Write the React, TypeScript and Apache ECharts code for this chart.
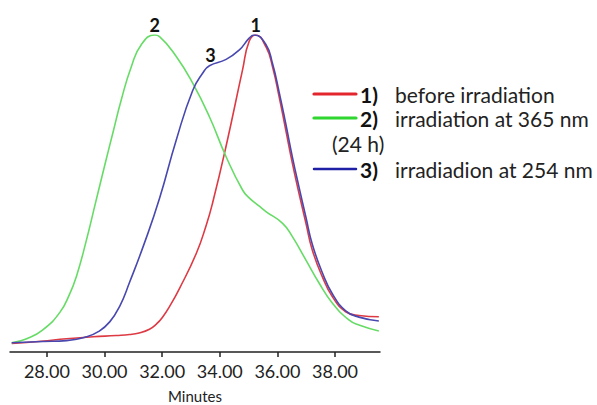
import React, { useEffect, useRef } from "react";
import * as echarts from "echarts";

// Elution traces (retention time in minutes, detector response normalised to peak = 100)
const beforeTime = [26.78, 27.8, 28.68, 29.6, 30.41, 30.87, 31.2, 31.56, 31.8, 32.0, 32.3, 32.6, 33.18, 33.53, 33.75, 34.22, 34.79, 35.02, 35.25, 35.6, 35.83, 36.06, 36.29, 36.52, 36.75, 36.99, 37.21, 37.56, 37.91, 38.37, 38.83, 39.52];
const beforeValue = [2.7, 3.4, 4.2, 4.8, 5.2, 5.5, 6.0, 7.2, 8.8, 10.8, 15.0, 20.0, 31.0, 40.0, 47.0, 65.0, 89.0, 98.0, 100, 96.3, 90.0, 80.5, 70.0, 59.5, 50.0, 40.6, 32.2, 23.7, 17.4, 12.7, 11.5, 11.1];

const uv365Time = [26.78, 27.3, 27.86, 28.45, 28.8, 29.03, 29.35, 29.7, 30.01, 30.3, 30.58, 30.93, 31.28, 31.74, 31.91, 32.49, 33.06, 33.64, 34.22, 34.79, 35.02, 35.37, 35.6, 36.18, 36.52, 36.99, 37.45, 37.91, 38.48, 38.83, 39.52];
const uv365Value = [2.9, 4.2, 7.0, 12.5, 18.5, 24.0, 34.5, 47.5, 59.0, 69.5, 79.5, 90.0, 97.0, 100, 99.5, 93.2, 84.8, 74.2, 61.6, 51.1, 48.6, 46.0, 44.3, 40.6, 36.4, 29.0, 21.7, 15.4, 10.1, 8.5, 6.6];

const uv254Time = [26.78, 27.86, 28.68, 29.37, 29.8, 30.18, 30.53, 30.87, 31.39, 31.91, 32.49, 33.06, 33.41, 33.64, 34.22, 34.68, 35.02, 35.19, 35.6, 35.83, 36.06, 36.29, 36.52, 36.75, 36.99, 37.21, 37.56, 37.91, 38.37, 38.83, 39.52];
const uv254Value = [2.9, 3.3, 3.6, 4.8, 6.5, 9.5, 14.5, 22.0, 34.5, 48.5, 66.9, 82.5, 88.0, 90.3, 92.3, 95.3, 99.0, 100, 97.0, 91.0, 82.0, 72.0, 61.5, 52.0, 42.5, 34.0, 25.0, 18.3, 13.0, 11.0, 9.8];

const xTicks = [28, 30, 32, 34, 36, 38];
const peakLabels = ["1", "2", "3"];
const legendTags = ["1)", "2)", "3)"];
const legendTexts = ["before irradiation", "irradiation at 365 nm", "irradiadion at 254 nm"];

const pairs = (t: number[], v: number[]) => t.map((x, i) => [x, v[i]]);

export default function App() {
  const ref = useRef<HTMLDivElement>(null);

  useEffect(() => {
    if (!ref.current) return;
    const chart = echarts.init(ref.current, null, { renderer: "svg" });
    const font = "Lato, 'Open Sans', sans-serif";

    const lineSeries = (name: string, data: number[][], color: string, label: string, coord: number[], width: number) => ({
      name,
      type: "line",
      data,
      smooth: 0.5,
      showSymbol: false,
      lineStyle: { color, width },
      z: 2,
      markPoint: {
        symbol: "circle",
        symbolSize: 0,
        silent: true,
        data: [{ coord }],
        label: {
          show: true,
          formatter: label,
          position: "top",
          distance: 1,
          color: "#111",
          fontFamily: font,
          fontWeight: "bold",
          fontSize: 18,
        },
      },
    });

    const legendRows = [
      { y: 94, color: "#e3262e" },
      { y: 118, color: "#2fd62f" },
      { y: 169, color: "#1f1fa6" },
    ];

    const graphics: any[] = [];
    legendRows.forEach((r, i) => {
      graphics.push({
        type: "line",
        shape: { x1: 314, y1: r.y, x2: 356, y2: r.y },
        style: { stroke: r.color, lineWidth: i === 2 ? 2.5 : 3.2, lineCap: "round" },
      });
      graphics.push({
        type: "text",
        x: 360,
        y: r.y,
        style: { text: legendTags[i], font: `bold 21px ${font}`, fill: "#111", verticalAlign: "middle" },
      });
      graphics.push({
        type: "text",
        x: 395,
        y: r.y,
        style: { text: legendTexts[i], font: `21px ${font}`, fill: "#222", verticalAlign: "middle" },
      });
    });
    graphics.push({
      type: "text",
      x: 332,
      y: 143,
      style: { text: "(24 h)", font: `21px ${font}`, fill: "#222", verticalAlign: "middle" },
    });

    chart.setOption({
      animation: false,
      backgroundColor: "#fff",
      grid: { left: 10, right: 217, top: 35, bottom: 53, containLabel: false, outerBoundsMode: "none" },
      xAxis: {
        type: "value",
        min: 26.72,
        max: 39.56,
        name: "Minutes",
        nameLocation: "middle",
        nameGap: 36,
        nameTextStyle: { fontFamily: font, fontSize: 15, color: "#222" },
        axisLine: { show: true, lineStyle: { color: "#222", width: 1.5 } },
        axisTick: { show: true, customValues: xTicks, length: 5, lineStyle: { color: "#222", width: 1.5 } },
        axisLabel: {
          customValues: xTicks,
          formatter: (v: number) => v.toFixed(2),
          margin: 10,
          fontFamily: font,
          fontSize: 18,
          color: "#222",
        },
        splitLine: { show: false },
      },
      yAxis: {
        type: "value",
        min: 0,
        max: 100,
        show: false,
        splitLine: { show: false },
      },
      series: [
        lineSeries("1) before irradiation", pairs(beforeTime, beforeValue), "#dd3a44", peakLabels[0], [35.25, 100], 1.6),
        lineSeries("2) irradiation at 365 nm (24 h)", pairs(uv365Time, uv365Value), "#66dc66", peakLabels[1], [31.74, 100], 1.6),
        lineSeries("3) irradiadion at 254 nm", pairs(uv254Time, uv254Value), "#4848b0", peakLabels[2], [33.68, 90.5], 1.6),
      ],
      graphic: graphics,
    });

    return () => chart.dispose();
  }, []);

  return <div ref={ref} style={{ width: 597, height: 405, position: "absolute", left: 0, top: 0 }} />;
}
